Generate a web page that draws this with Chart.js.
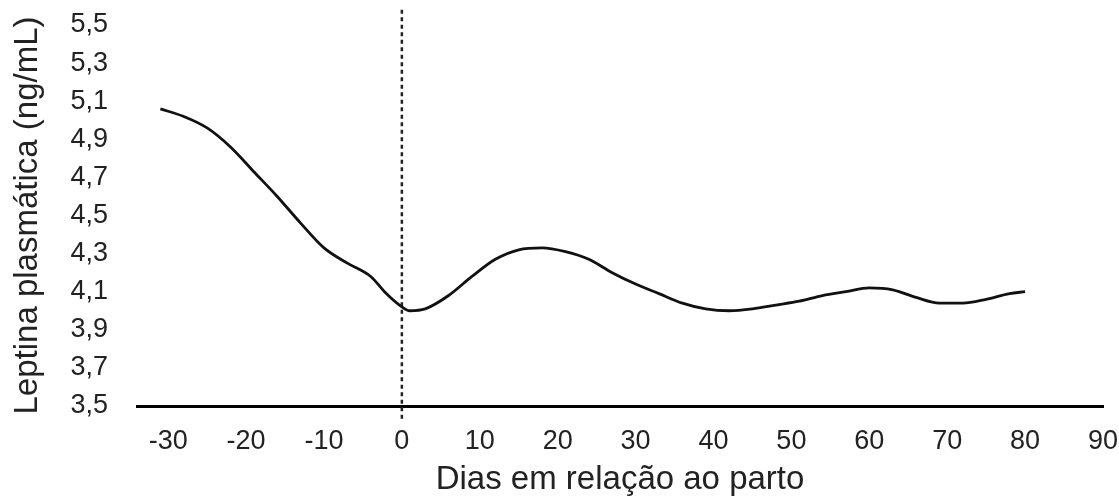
<!DOCTYPE html>
<html>
<head>
<meta charset="utf-8">
<script src="https://cdn.jsdelivr.net/npm/chart.js@4/dist/chart.umd.min.js"></script>
<style>
  html, body { margin: 0; padding: 0; background: #fff; }
  #wrap { width: 1119px; height: 497px; position: relative; }
</style>
</head>
<body>
<div id="wrap"><canvas id="line-chart"></canvas></div>
<script>
// dias em relação ao parto
const days = [-31, -28, -25, -22, -19, -16, -13, -10, -7, -4, -2, 0, 1, 3, 6, 9, 12, 15, 18, 21,
    24, 27, 30, 33, 36, 39, 42, 45, 48, 51, 54, 57, 60, 63, 66, 69, 72, 75, 78, 80];
// leptina plasmática (ng/mL)
const leptin = [5.06, 5.02, 4.96, 4.86, 4.73, 4.60, 4.46, 4.33, 4.25, 4.18, 4.09, 4.02, 4.00, 4.01, 4.08, 4.18, 4.27, 4.32, 4.33, 4.31,
    4.27, 4.20, 4.14, 4.09, 4.04, 4.01, 4.00, 4.01, 4.03, 4.05, 4.08, 4.10, 4.12, 4.11, 4.07, 4.04, 4.04, 4.06, 4.09, 4.10];
// dashed marker at the birth day
const partoX = [0, 0];
const partoY = [5.58, 3.43];

const xTicks = [-30, -20, -10, 0, 10, 20, 30, 40, 50, 60, 70, 80, 90];
const yTicks = [3.5, 3.7, 3.9, 4.1, 4.3, 4.5, 4.7, 4.9, 5.1, 5.3, 5.5];

const font = "'Liberation Sans', Arial, sans-serif";

new Chart(document.getElementById("line-chart"), {
    type: 'line',
    data: {
        datasets: [
            {
                data: days.map((d, i) => ({x: d, y: leptin[i]})),
                borderColor: "#111",
                borderWidth: 2.8,
                pointRadius: 0,
                cubicInterpolationMode: 'monotone',
                fill: false
            },
            {
                data: partoX.map((d, i) => ({x: d, y: partoY[i]})),
                borderColor: "#222",
                borderWidth: 2.5,
                borderDash: [4, 3.5],
                pointRadius: 0,
                clip: false,
                fill: false
            }
        ]
    },
    options: {
        responsive: true,
        maintainAspectRatio: false,
        animation: false,
        layout: {
            padding: {left: 8, top: 0, right: 0, bottom: 0}
        },
        plugins: {
            legend: {display: false},
            tooltip: {enabled: false}
        },
        scales: {
            x: {
                type: 'linear',
                min: -34,
                max: 90,
                afterBuildTicks: scale => { scale.ticks = xTicks.map(v => ({value: v})); },
                afterFit: scale => {
                    scale.height = 91;
                    scale.paddingRight = 16;
                },
                grid: {display: false, drawTicks: false},
                border: {display: true, color: '#000', width: 3},
                ticks: {
                    color: '#222',
                    padding: 19,
                    maxRotation: 0,
                    font: {family: font, size: 27}
                },
                title: {
                    display: true,
                    text: 'Dias em relação ao parto',
                    color: '#222',
                    padding: {top: 0, bottom: -3},
                    font: {family: font, size: 33}
                }
            },
            y: {
                min: 3.5,
                max: 5.5,
                afterBuildTicks: scale => { scale.ticks = yTicks.map(v => ({value: v})); },
                afterFit: scale => {
                    scale.width = 129;
                    scale.paddingTop = 25;
                    scale.paddingBottom = 0;
                },
                grid: {display: false, drawTicks: false},
                border: {display: false},
                ticks: {
                    color: '#222',
                    padding: 29,
                    autoSkip: false,
                    font: {family: font, size: 27},
                    callback: v => v.toFixed(1).replace('.', ',')
                },
                title: {
                    display: true,
                    text: 'Leptina plasmática (ng/mL)',
                    color: '#222',
                    padding: {top: 0, bottom: 0},
                    font: {family: font, size: 33}
                }
            }
        }
    }
});
</script>
</body>
</html>
